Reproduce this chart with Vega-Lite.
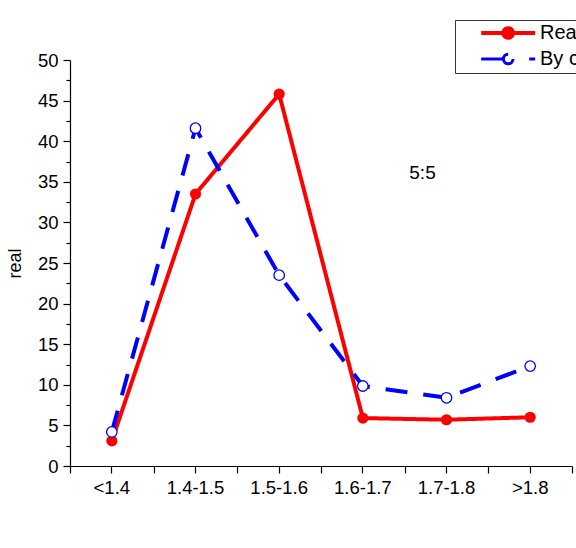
{
  "$schema": "https://vega.github.io/schema/vega-lite/v6.json",
  "width": 502,
  "height": 406,
  "autosize": {"type": "none"},
  "padding": {"left": 70, "top": 60, "right": 4, "bottom": 82},
  "background": "white",
  "config": {
    "view": {"stroke": null},
    "font": "Liberation Sans",
    "axis": {"domainColor": "black", "tickColor": "black", "labelColor": "black", "titleColor": "black", "labelFont": "Liberation Sans", "titleFont": "Liberation Sans", "grid": false}
  },
  "data": {
    "values": [
      {"bin": "<1.4", "series": "Real", "value": 3.1},
      {"bin": "1.4-1.5", "series": "Real", "value": 33.5},
      {"bin": "1.5-1.6", "series": "Real", "value": 45.8},
      {"bin": "1.6-1.7", "series": "Real", "value": 5.9},
      {"bin": "1.7-1.8", "series": "Real", "value": 5.7},
      {"bin": ">1.8", "series": "Real", "value": 6.0},
      {"bin": "<1.4", "series": "By calculation", "value": 4.2},
      {"bin": "1.4-1.5", "series": "By calculation", "value": 41.6},
      {"bin": "1.5-1.6", "series": "By calculation", "value": 23.5},
      {"bin": "1.6-1.7", "series": "By calculation", "value": 9.85},
      {"bin": "1.7-1.8", "series": "By calculation", "value": 8.4},
      {"bin": ">1.8", "series": "By calculation", "value": 12.3}
    ]
  },
  "resolve": {"axis": {"x": "independent", "y": "independent"}},
  "layer": [
    {
      "mark": {"type": "line", "strokeWidth": 4},
      "encoding": {
        "x": {"field": "bin", "type": "nominal", "sort": ["<1.4", "1.4-1.5", "1.5-1.6", "1.6-1.7", "1.7-1.8", ">1.8"],
          "scale": {"type": "band", "paddingInner": 0, "paddingOuter": 0, "domain": ["<1.4", "1.4-1.5", "1.5-1.6", "1.6-1.7", "1.7-1.8", ">1.8"]},
          "axis": {"orient": "bottom", "title": null, "labelAngle": 0, "labelFontSize": 18.5, "tickSize": 7, "labelPadding": 5, "domainWidth": 1.2, "tickWidth": 1.2}},
        "y": {"field": "value", "type": "quantitative",
          "scale": {"domain": [0, 50], "nice": false, "zero": true},
          "axis": {"orient": "left", "title": "real", "values": [0, 5, 10, 15, 20, 25, 30, 35, 40, 45, 50], "labelFontSize": 18.5, "titleFontSize": 18, "titleFontWeight": "normal", "tickSize": 7, "labelPadding": 5, "titlePadding": 13, "domainWidth": 1.2, "tickWidth": 1.2}},
        "color": {"field": "series", "type": "nominal",
          "scale": {"domain": ["Real", "By calculation"], "range": ["#ff0000", "#0000ff"]},
          "legend": {"orient": "none", "legendX": 385, "legendY": -40, "title": null, "strokeColor": "#333333", "fillColor": "white", "padding": 3,
            "symbolSize": 144, "symbolStrokeWidth": 4, "labelFontSize": 20, "labelOffset": 62, "rowPadding": 2, "labelFont": "Liberation Sans", "labelColor": "black",
            "encode": {"symbols": {"update": {
              "shape": {"signal": "datum.value === 'Real' ? 'M2.2,0H11.2M7.5,0A0.8,0.8,0,0,1,6.7,0.8A0.8,0.8,0,0,1,5.9,0A0.8,0.8,0,0,1,6.7,-0.8A0.8,0.8,0,0,1,7.5,0Z' : 'M2.2,0H5.8M7.5,0A0.8,0.8,0,0,1,6.7,0.8A0.8,0.8,0,0,1,5.9,0A0.8,0.8,0,0,1,6.7,-0.8A0.8,0.8,0,0,1,7.5,0ZM10.2,0H11.2'"},
              "fill": {"signal": "datum.value === 'Real' ? '#ff0000' : '#ffffff'"},
              "fillOpacity": {"value": 1},
              "strokeWidth": {"signal": "datum.value === 'Real' ? 4 : 3"}
            }}}}},
        "strokeDash": {"field": "series", "type": "nominal",
          "scale": {"domain": ["Real", "By calculation"], "range": [[1, 0], [22, 16]]},
          "legend": null}
      }
    },
    {
      "mark": {"type": "point", "filled": true, "size": 125, "opacity": 1},
      "transform": [{"filter": "datum.series === 'Real'"}],
      "encoding": {
        "x": {"field": "bin", "type": "nominal", "sort": ["<1.4", "1.4-1.5", "1.5-1.6", "1.6-1.7", "1.7-1.8", ">1.8"],
          "axis": {"orient": "bottom", "tickBand": "extent", "labels": false, "domain": false, "title": null, "tickSize": 7, "tickWidth": 1.2}},
        "y": {"field": "value", "type": "quantitative",
          "axis": {"orient": "left", "values": [2.5, 7.5, 12.5, 17.5, 22.5, 27.5, 32.5, 37.5, 42.5, 47.5], "labels": false, "domain": false, "title": null, "tickSize": 4, "tickWidth": 1.2}},
        "color": {"value": "#ff0000"}
      }
    },
    {
      "mark": {"type": "point", "filled": false, "size": 110, "fill": "white", "fillOpacity": 1, "stroke": "#0000ff", "strokeWidth": 1.3, "opacity": 1},
      "transform": [{"filter": "datum.series === 'By calculation'"}],
      "encoding": {
        "x": {"field": "bin", "type": "nominal", "sort": ["<1.4", "1.4-1.5", "1.5-1.6", "1.6-1.7", "1.7-1.8", ">1.8"], "axis": null},
        "y": {"field": "value", "type": "quantitative", "axis": null}
      }
    },
    {
      "data": {"values": [{"label": "5:5", "bin": "1.7-1.8", "value": 36.1}]},
      "mark": {"type": "text", "fontSize": 19, "font": "Liberation Sans", "color": "black", "dx": -24, "baseline": "middle", "align": "center"},
      "encoding": {
        "x": {"field": "bin", "type": "nominal", "sort": ["<1.4", "1.4-1.5", "1.5-1.6", "1.6-1.7", "1.7-1.8", ">1.8"], "axis": null},
        "y": {"field": "value", "type": "quantitative", "axis": null},
        "text": {"field": "label"}
      }
    }
  ]
}
